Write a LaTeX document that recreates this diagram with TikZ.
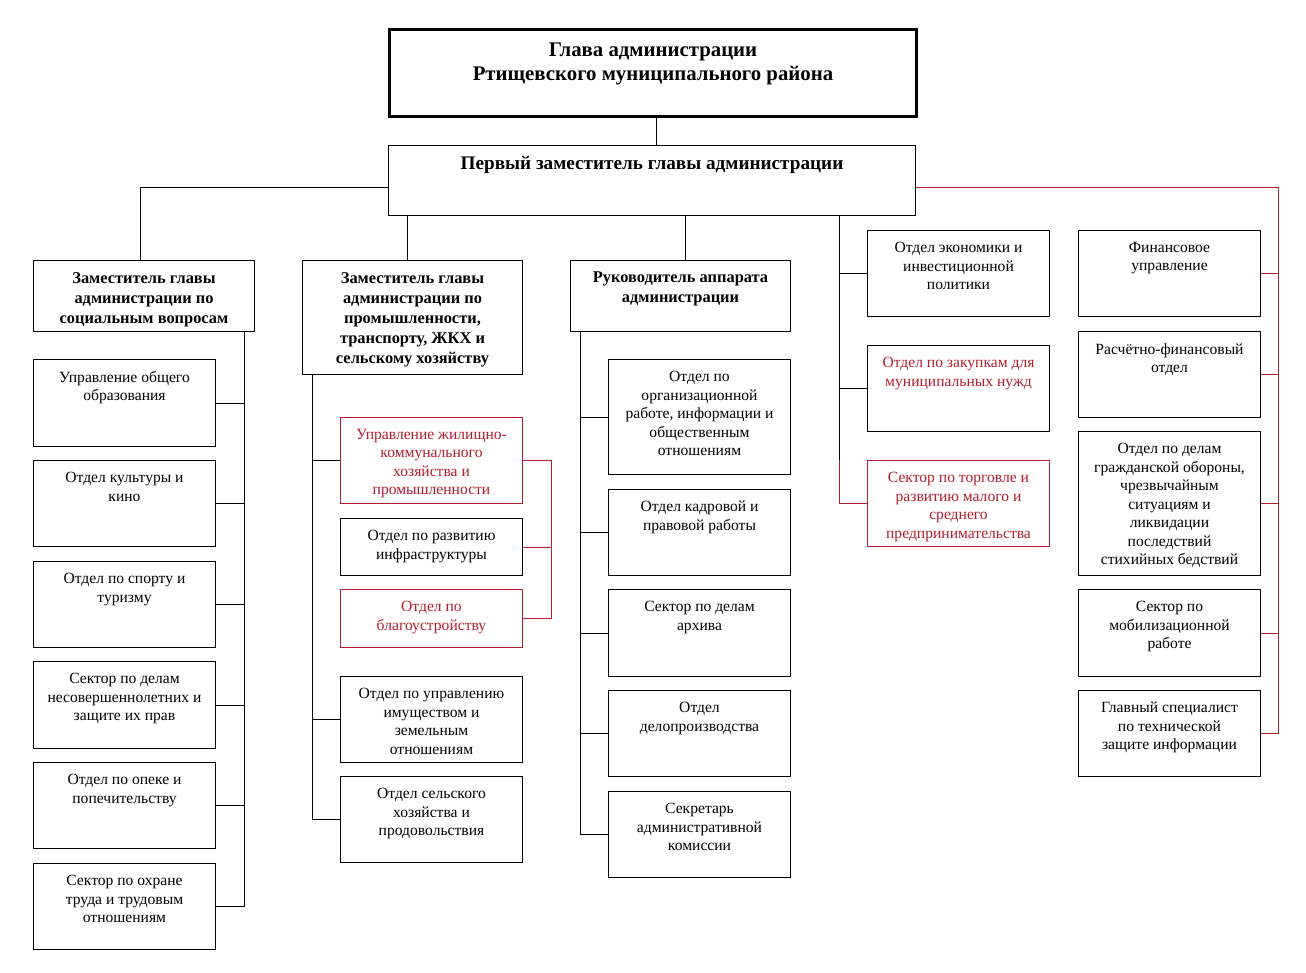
\documentclass[tikz,border=0pt]{standalone}
\usepackage{fontspec}
\setmainfont{Liberation Serif}
\definecolor{dred}{RGB}{180,30,45}
\newcommand\bx[6]{%
  \node[box,#2,minimum width=#5pt,minimum height=#6pt,anchor=north west] (#1) at (#3,#4) {};}
\begin{document}
\begin{tikzpicture}[x=1pt,y=-1pt,
  box/.style={draw, line width=1pt, inner sep=0pt, fill=white},
  conn/.style={line width=1pt},
  rconn/.style={line width=1pt, draw=dred},
  redbox/.style={draw=dred},
  txt/.style={anchor=north, inner sep=0pt, align=center},
  reg/.style={txt, font=\fontsize{15.6}{18.5}\selectfont, yshift=-12pt, execute at begin node={\rule{0pt}{11pt}}},
  regred/.style={reg, text=dred},
  bld/.style={txt, font=\fontsize{16.4}{20}\selectfont\bfseries, yshift=-12pt, execute at begin node={\rule{0pt}{11pt}}},
  headt/.style={txt, font=\fontsize{20.8}{24}\selectfont\bfseries, yshift=-15pt, execute at begin node={\rule{0pt}{14pt}}},
  fdt/.style={txt, font=\fontsize{19.2}{23}\selectfont\bfseries, yshift=-10pt, execute at begin node={\rule{0pt}{14pt}}}
]
\fill[white] (0,0) rectangle (1306,972);
\useasboundingbox (0,0) rectangle (1306,972);

% top
\bx{head}{line width=3pt}{388}{28}{527}{87}
\node[headt] (headt) at (head.north) {Глава администрации\\Ртищевского муниципального района};
\bx{fd}{}{388}{145}{527}{70}
\node[fdt] (fdt) at (fd.north) {Первый заместитель главы администрации};

% deputies
\bx{dep1}{}{33}{260}{221}{71}
\node[bld] (dep1t) at (dep1.north) {Заместитель главы\\администрации по\\социальным вопросам};
\bx{dep2}{}{302}{260}{220}{114}
\node[bld] (dep2t) at (dep2.north) {Заместитель главы\\администрации по\\промышленности,\\транспорту, ЖКХ и\\сельскому хозяйству};
\bx{dep3}{}{570}{260}{220}{71}
\node[bld] (dep3t) at (dep3.north) {Руководитель аппарата\\администрации};

% column 1
\bx{a1}{}{33}{359}{182}{87}
\node[reg] (a1t) at (a1.north) {Управление общего\\образования};
\bx{a2}{}{33}{460}{182}{86}
\node[reg] (a2t) at (a2.north) {Отдел культуры и\\кино};
\bx{a3}{}{33}{561}{182}{86}
\node[reg] (a3t) at (a3.north) {Отдел по спорту и\\туризму};
\bx{a4}{}{33}{661}{182}{87}
\node[reg] (a4t) at (a4.north) {Сектор по делам\\несовершеннолетних и\\защите их прав};
\bx{a5}{}{33}{762}{182}{86}
\node[reg] (a5t) at (a5.north) {Отдел по опеке и\\попечительству};
\bx{a6}{}{33}{863}{182}{86}
\node[reg] (a6t) at (a6.north) {Сектор по охране\\труда и трудовым\\отношениям};

% column 2
\bx{b1}{redbox}{340}{417}{182}{86}
\node[regred] (b1t) at (b1.north) {Управление жилищно-\\коммунального\\хозяйства и\\промышленности};
\bx{b2}{}{340}{518}{182}{57}
\node[reg] (b2t) at (b2.north) {Отдел по развитию\\инфраструктуры};
\bx{b3}{redbox}{340}{589}{182}{58}
\node[regred] (b3t) at (b3.north) {Отдел по\\благоустройству};
\bx{b4}{}{340}{676}{182}{86}
\node[reg] (b4t) at (b4.north) {Отдел по управлению\\имуществом и\\земельным\\отношениям};
\bx{b5}{}{340}{776}{182}{86}
\node[reg] (b5t) at (b5.north) {Отдел сельского\\хозяйства и\\продовольствия};

% column 3
\bx{c1}{}{608}{359}{182}{115}
\node[reg] (c1t) at (c1.north) {Отдел по\\организационной\\работе, информации и\\общественным\\отношениям};
\bx{c2}{}{608}{489}{182}{86}
\node[reg] (c2t) at (c2.north) {Отдел кадровой и\\правовой работы};
\bx{c3}{}{608}{589}{182}{87}
\node[reg] (c3t) at (c3.north) {Сектор по делам\\архива};
\bx{c4}{}{608}{690}{182}{86}
\node[reg] (c4t) at (c4.north) {Отдел\\делопроизводства};
\bx{c5}{}{608}{791}{182}{86}
\node[reg] (c5t) at (c5.north) {Секретарь\\административной\\комиссии};

% column 4
\bx{d1}{}{867}{230}{182}{86}
\node[reg] (d1t) at (d1.north) {Отдел экономики и\\инвестиционной\\политики};
\bx{d2}{}{867}{345}{182}{86}
\node[regred] (d2t) at (d2.north) {Отдел по закупкам для\\муниципальных нужд};
\bx{d3}{redbox}{867}{460}{182}{86}
\node[regred] (d3t) at (d3.north) {Сектор по торговле и\\развитию малого и\\среднего\\предпринимательства};

% column 5
\bx{e1}{}{1078}{230}{182}{86}
\node[reg] (e1t) at (e1.north) {Финансовое\\управление};
\bx{e2}{}{1078}{331}{182}{86}
\node[reg] (e2t) at (e2.north) {Расчётно-финансовый\\отдел};
\bx{e3}{}{1078}{431}{182}{144}
\node[reg] (e3t) at (e3.north) {Отдел по делам\\гражданской обороны,\\чрезвычайным\\ситуациям и\\ликвидации\\последствий\\стихийных бедствий};
\bx{e4}{}{1078}{589}{182}{87}
\node[reg] (e4t) at (e4.north) {Сектор по\\мобилизационной\\работе};
\bx{e5}{}{1078}{690}{182}{86}
\node[reg] (e5t) at (e5.north) {Главный специалист\\по технической\\защите информации};

% guide coordinates
\coordinate (x656) at (656,0);
\coordinate (x140) at (140,0);
\coordinate (x407) at (407,0);
\coordinate (x685) at (685,0);
\coordinate (k) at (839,460);
\coordinate (rx) at (1278,0);
\coordinate (s1) at (244,0);
\coordinate (s2) at (312,0);
\coordinate (s2r) at (551,0);
\coordinate (s3) at (580,0);

% connectors
\draw[conn] (head.south -| x656) -- (fd.north -| x656);
\draw[conn] ([yshift=-7pt]fd.west) -| (dep1.north -| x140);
\draw[conn] (fd.south -| x407) -- (dep2.north -| x407);
\draw[conn] (fd.south -| x685) -- (dep3.north -| x685);

\draw[conn] (fd.south -| k) -- (k);
\draw[rconn] (k) |- (d3.west);
\draw[conn] (d1.west -| k) -- (d1.west);
\draw[conn] (d2.west -| k) -- (d2.west);

\draw[rconn] ([yshift=-7pt]fd.east) -| (e5.east -| rx) -- (e5.east);
\foreach \n in {e1,e2,e3,e4} \draw[rconn] (\n.east) -- (\n.east -| rx);

\draw[conn] (dep1.south -| s1) |- (a6.east);
\foreach \n in {a1,a2,a3,a4,a5} \draw[conn] (\n.east) -- (\n.east -| s1);

\draw[conn] (dep2.south -| s2) |- (b5.west);
\foreach \n in {b1,b4} \draw[conn] (\n.west) -- (\n.west -| s2);
\draw[rconn] (b1.east) -| (b3.east -| s2r) -- (b3.east);
\draw[rconn] (b2.east) -- (b2.east -| s2r);

\draw[conn] (dep3.south -| s3) |- (c5.west);
\foreach \n in {c1,c2,c3,c4} \draw[conn] (\n.west) -- (\n.west -| s3);
\end{tikzpicture}
\end{document}
